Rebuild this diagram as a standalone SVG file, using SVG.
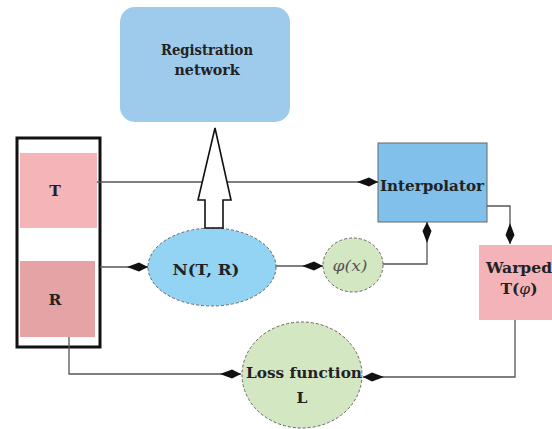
<svg xmlns="http://www.w3.org/2000/svg" width="552" height="429" viewBox="0 0 552 429">
<defs>
<marker id="dia" markerUnits="userSpaceOnUse" markerWidth="22" markerHeight="10" refX="21" refY="5" orient="auto">
<path d="M0,5 L12,0.5 L21,5 L12,9.5 Z" fill="#111"/>
</marker>
</defs>
<style>
text{font-family:'DejaVu Serif',serif}
.t{font-weight:bold;fill:#222;text-anchor:middle}
.c{fill:none;stroke:#555;stroke-width:1.3}
.dash{stroke:#666;stroke-width:1;stroke-dasharray:3 2}
</style>
<rect width="552" height="429" fill="#fff"/>
<g id="registration">
<rect x="120" y="7" width="170" height="115" rx="15" fill="#9ecbec"/>
<text class="t" x="207" y="55" font-size="14.5" textLength="92" lengthAdjust="spacingAndGlyphs">Registration</text>
<text class="t" x="207" y="75" font-size="14.5" textLength="65" lengthAdjust="spacingAndGlyphs">network</text>
</g>
<g id="frame">
<rect x="17" y="138" width="83" height="209" fill="none" stroke="#111" stroke-width="3"/>
</g>
<g id="T">
<rect x="20" y="153" width="77" height="75" fill="#f5b4b7"/>
<text class="t" x="55" y="196" font-size="15.5">T</text>
</g>
<g id="R">
<rect x="20" y="261" width="75" height="76" fill="#e6a3a6"/>
<text class="t" x="55" y="305" font-size="15.5">R</text>
</g>
<g id="interpolator">
<rect x="378" y="143" width="109" height="79" fill="#80c0ea" stroke="#666" stroke-width="1"/>
<text class="t" x="432" y="191" font-size="15.5" textLength="104" lengthAdjust="spacingAndGlyphs">Interpolator</text>
</g>
<g id="N">
<ellipse cx="212" cy="267" rx="64" ry="39" fill="#93d3f3" class="dash"/>
<text class="t" x="206" y="275" font-size="15" textLength="67" lengthAdjust="spacingAndGlyphs">N(T, R)</text>
</g>
<g id="phi">
<ellipse cx="353" cy="265" rx="30" ry="27" fill="#d4e7c3" class="dash"/>
<text x="350" y="271" font-size="15" font-style="italic" text-anchor="middle" fill="#555" textLength="35" lengthAdjust="spacingAndGlyphs">φ(x)</text>
</g>
<g id="warped">
<rect x="479" y="245" width="75" height="75" fill="#f3b3b8"/>
<text class="t" x="519" y="273" font-size="15.5" textLength="66" lengthAdjust="spacingAndGlyphs">Warped</text>
<text class="t" x="519" y="294" font-size="15.5">T(<tspan font-style="italic" font-weight="normal">φ</tspan>)</text>
</g>
<g id="loss">
<ellipse cx="302" cy="375" rx="60" ry="53" fill="#d4e7c3" class="dash"/>
<text class="t" x="304" y="378" font-size="15.5" textLength="116" lengthAdjust="spacingAndGlyphs">Loss function</text>
<text class="t" x="302" y="403" font-size="15.5">L</text>
</g>
<g id="connectors">
<path class="c" d="M97,182 H378" marker-end="url(#dia)"/>
<path class="c" d="M100,267 H148" marker-end="url(#dia)"/>
<path class="c" d="M276,266 H323" marker-end="url(#dia)"/>
<path class="c" d="M383,264 H427 V222" marker-end="url(#dia)"/>
<path class="c" d="M487,206 H510 V244" marker-end="url(#dia)"/>
<path class="c" d="M515,320 V377 H363" marker-end="url(#dia)"/>
<path class="c" d="M69,337 V374 H241" marker-end="url(#dia)"/>
<polygon points="205,228 205,200 198,200 215,128 231,200 223,200 223,228" fill="#fff" stroke="#111" stroke-width="1.6"/>
</g>
</svg>
